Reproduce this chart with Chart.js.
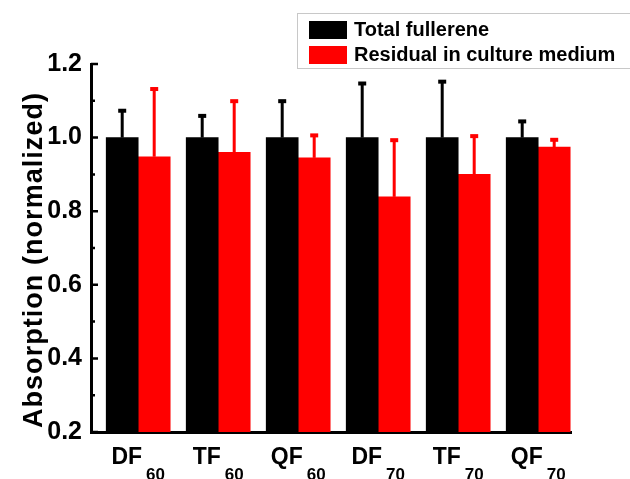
<!DOCTYPE html>
<html>
<head>
<meta charset="utf-8">
<script src="https://cdn.jsdelivr.net/npm/chart.js@4.4.0/dist/chart.umd.min.js"></script>
<style>
  html, body { margin: 0; padding: 0; background: #fff; }
  #wrap { width: 630px; height: 479px; }
</style>
</head>
<body>
<div id="wrap"><canvas id="mainChart" width="630" height="479"></canvas></div>
<script>
// sample names, printed as base + subscript
const sampleBase = ['DF', 'TF', 'QF', 'DF', 'TF', 'QF'];
const sampleSub = ['60', '60', '60', '70', '70', '70'];
const samplePos = [1, 2, 3, 4, 5, 6];

const totalMean = [1.0, 1.0, 1.0, 1.0, 1.0, 1.0];
const totalErr = [0.073, 0.059, 0.099, 0.147, 0.152, 0.044];
const residualMean = [0.948, 0.960, 0.945, 0.839, 0.900, 0.974];
const residualErr = [0.184, 0.139, 0.061, 0.154, 0.104, 0.020];

const yTicks = [0.2, 0.4, 0.6, 0.8, 1.0, 1.2];
const yMinorTicks = [0.3, 0.5, 0.7, 0.9, 1.1];
const yTitle = 'Absorption (normalized)';

const FONT = "'Liberation Sans', Arial, sans-serif";

const toPoints = (vals) => vals.map((v, i) => ({ x: samplePos[i], y: v }));

const errors = [totalErr, residualErr];
const means = [totalMean, residualMean];

const extrasPlugin = {
    id: 'extras',
    afterDatasetsDraw(chart) {
        const ctx = chart.ctx;
        const yScale = chart.scales.y;
        ctx.save();
        chart.data.datasets.forEach((ds, di) => {
            const meta = chart.getDatasetMeta(di);
            ctx.fillStyle = ds.backgroundColor;
            meta.data.forEach((bar, i) => {
                const top = yScale.getPixelForValue(means[di][i] + errors[di][i]);
                ctx.fillRect(bar.x - 1.5, top, 3, bar.y - top);
                ctx.fillRect(bar.x - 4, top - 2, 8, 4);
            });
        });
        ctx.restore();
    },
    afterDraw(chart) {
        const ctx = chart.ctx;
        const xScale = chart.scales.x;
        const yScale = chart.scales.y;
        const area = chart.chartArea;
        ctx.save();

        // inward ticks on the y axis
        ctx.strokeStyle = '#000';
        ctx.lineWidth = 2.5;
        ctx.beginPath();
        yTicks.forEach(v => {
            const y = yScale.getPixelForValue(v);
            ctx.moveTo(area.left, y);
            ctx.lineTo(area.left + 7, y);
        });
        yMinorTicks.forEach(v => {
            const y = yScale.getPixelForValue(v);
            ctx.moveTo(area.left, y);
            ctx.lineTo(area.left + 4, y);
        });
        ctx.stroke();

        // y axis title, a little spaced out like the original
        ctx.fillStyle = '#000';
        ctx.font = 'bold 27px ' + FONT;
        const tw = ctx.measureText(yTitle).width;
        ctx.letterSpacing = ((335 - tw) / (yTitle.length - 1)).toFixed(2) + 'px';
        ctx.translate(42, 260);
        ctx.rotate(-Math.PI / 2);
        ctx.textAlign = 'center';
        ctx.textBaseline = 'alphabetic';
        ctx.fillText(yTitle, 0, 0);
        ctx.setTransform(1, 0, 0, 1, 0, 0);
        ctx.letterSpacing = '0px';

        // category labels with subscripts
        ctx.textAlign = 'left';
        samplePos.forEach((p, i) => {
            const cx = xScale.getPixelForValue(p);
            ctx.font = 'bold 23px ' + FONT;
            const w1 = ctx.measureText(sampleBase[i]).width;
            ctx.font = 'bold 17px ' + FONT;
            const w2 = ctx.measureText(sampleSub[i]).width;
            const start = cx - (w1 + w2 + 4) / 2;
            ctx.font = 'bold 23px ' + FONT;
            ctx.fillText(sampleBase[i], start, 464);
            ctx.font = 'bold 17px ' + FONT;
            ctx.fillText(sampleSub[i], start + w1 + 4, 480);
        });

        // legend box
        ctx.strokeStyle = '#c8c8c8';
        ctx.lineWidth = 1;
        ctx.strokeRect(297.5, 13.5, 340, 55);
        ctx.font = 'bold 20px ' + FONT;
        chart.data.datasets.forEach((ds, di) => {
            const y = 21 + di * 25;
            ctx.fillStyle = ds.backgroundColor;
            ctx.fillRect(309, y, 38, 18);
            ctx.fillStyle = '#000';
            ctx.fillText(ds.label, 354, y + 15);
        });
        ctx.restore();
    }
};

const ctx = document.getElementById('mainChart').getContext('2d');
const absorptionChart = new Chart(ctx, {
    type: 'bar',
    data: {
        datasets: [{
            label: 'Total fullerene',
            data: toPoints(totalMean),
            backgroundColor: '#000000',
            barThickness: 32
        }, {
            label: 'Residual in culture medium',
            data: toPoints(residualMean),
            backgroundColor: '#ff0000',
            barThickness: 32
        }]
    },
    options: {
        responsive: false,
        animation: false,
        devicePixelRatio: 1,
        layout: { padding: { top: 64, right: 59, bottom: 0, left: 0 } },
        plugins: {
            legend: { display: false },
            tooltip: { enabled: false }
        },
        scales: {
            x: {
                type: 'linear',
                min: 0.41,
                max: 6.41,
                offset: false,
                grid: { display: false },
                border: { display: true, color: '#000', width: 3 },
                ticks: { display: false },
                afterFit(scale) { scale.height = 47; }
            },
            y: {
                min: 0.2,
                max: 1.2,
                grid: { display: false, drawTicks: false },
                border: { display: true, color: '#000', width: 3 },
                ticks: {
                    stepSize: 0.2,
                    padding: 9,
                    color: '#000',
                    font: { family: FONT, size: 25, weight: 'bold' },
                    callback: (v) => v.toFixed(1)
                },
                afterFit(scale) { scale.width = 91; }
            }
        }
    },
    plugins: [extrasPlugin]
});
</script>
</body>
</html>
